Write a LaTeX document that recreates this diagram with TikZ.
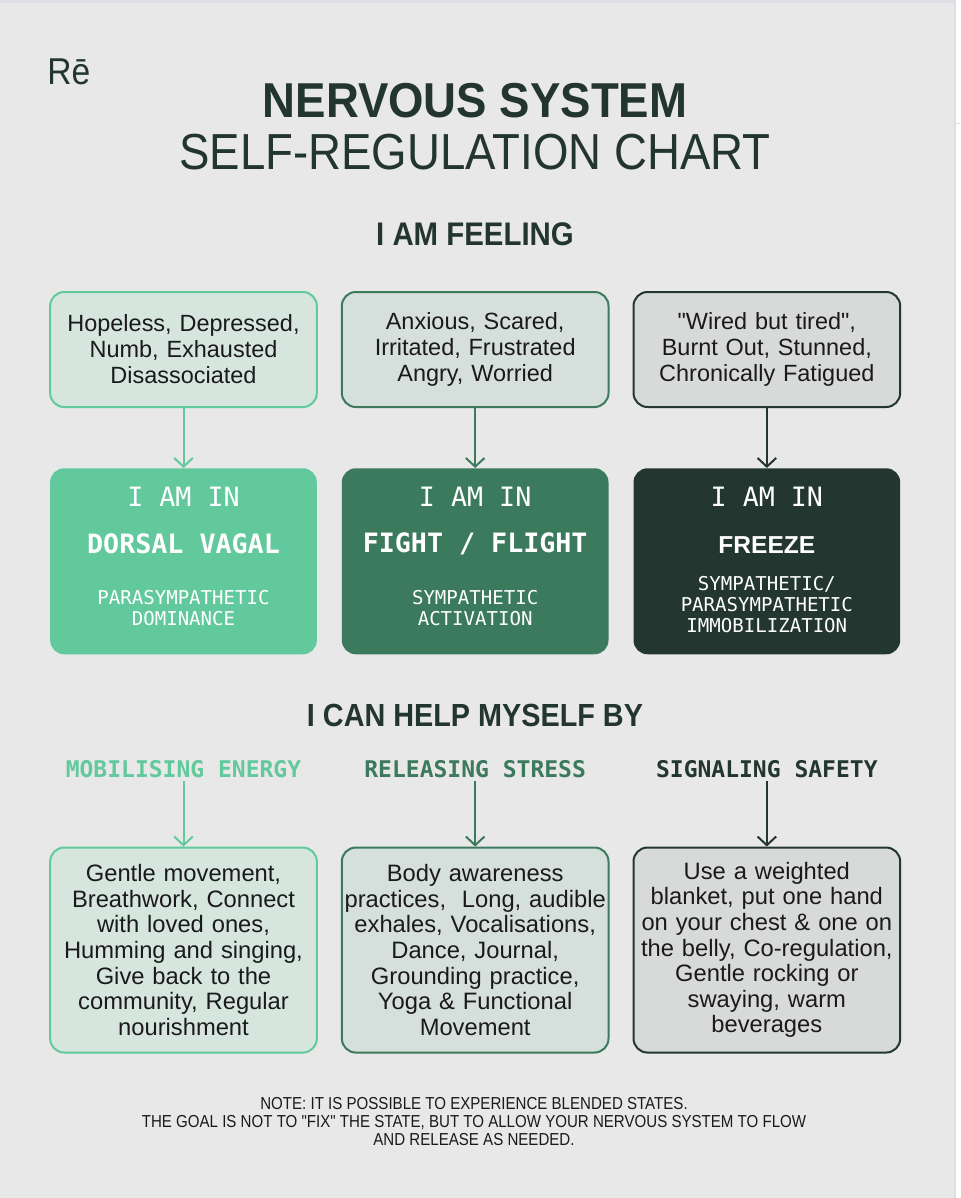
\documentclass[tikz,border=0pt]{standalone}
\usepackage{fontspec}
\setmainfont{Liberation Sans}[Ligatures=TeXOff]
\newfontfamily\headfont[FakeStretch=0.9]{Liberation Sans}
\newfontfamily\titlefont[FakeStretch=0.93]{Liberation Sans}
\newfontfamily\notefont[FakeStretch=0.87,Ligatures=TeXOff]{Liberation Sans}
\newfontfamily\codefont{DejaVu Sans Mono}
\usepackage{tikz}
\usetikzlibrary{calc}
\usetikzlibrary{arrows.meta}
\usetikzlibrary{positioning}

\definecolor{panel}{HTML}{E8E8E8}
\definecolor{rim}{HTML}{DCE0E5}
\definecolor{ink}{HTML}{1A1A1A}
\definecolor{head}{HTML}{22352E}
\definecolor{mint}{HTML}{62C99C}
\definecolor{moss}{HTML}{3B7A5D}
\definecolor{pine}{HTML}{233630}
\definecolor{mintpale}{HTML}{D6E6DF}
\definecolor{mosspale}{HTML}{D5DFDB}
\definecolor{pinepale}{HTML}{D8D9D9}

\begin{document}
\begin{tikzpicture}[x=0.75pt,y=-0.75pt]
    \def\blockdist{17.25pt}
    \tikzstyle{feel}=[rectangle, rounded corners=10.5pt, line width=1.5pt, draw, align=center, text width=196pt, inner sep=2pt, minimum height=86.25pt, text=ink, font=\fontsize{17.6}{19.5}\selectfont]
    \tikzstyle{help}=[feel, minimum height=153.75pt, font=\fontsize{17.8}{19.2}\selectfont]
    \tikzstyle{state}=[rectangle, rounded corners=10.5pt, minimum width=200pt, minimum height=139.5pt, inner sep=0pt]
    \tikzstyle{inlabel}=[text=white, font=\codefont\fontsize{20}{24}\selectfont]
    \tikzstyle{statename}=[text=white, font=\codefont\bfseries\fontsize{20}{24}\selectfont]
    \tikzstyle{sublabel}=[text=white, align=center, font=\codefont\fontsize{14.3}{15.9}\selectfont]
    \tikzstyle{caption}=[inner sep=2pt, font=\codefont\bfseries\fontsize{17.25}{20}\selectfont]
    \tikzstyle{heading}=[anchor=base, inner sep=0pt, text=head, font=\headfont\bfseries\fontsize{24.5}{28}\selectfont]
    \tikzstyle{arrow}=[-{Straight Barb[length=6.5pt,width=14pt]}, line width=1.5pt]

    % page
    \useasboundingbox (0,0) rectangle (960,1198);
    \fill[white] (0,0) rectangle (960,1198);
    \fill[panel] (0,3) rectangle (954,1198);
    \fill[rim] (0,0) rectangle (956,3);
    \fill[rim] (954,3) rectangle (956,1198);
    \draw[rim, line width=0.75pt] (956,124) -- (960,124);

    % headings
    \node (logo) [anchor=base west, inner sep=0pt, text=head, font=\headfont\fontsize{28}{30}\selectfont] at (47,85) {Rē};
    \node (title) [heading, font=\titlefont\bfseries\fontsize{36.75}{40}\selectfont] at (475,118) {NERVOUS SYSTEM};
    \node (subtitle) [heading, font=\headfont\fontsize{38}{42}\selectfont] at (475,170) {SELF-REGULATION CHART};
    \node (feeling) [heading] at (475,246) {I AM FEELING};

    % nodes
    \node (f1) [feel, draw=mint, fill=mintpale] at (183.5,349.5) {Hopeless, Depressed,\\Numb, Exhausted\\Disassociated};
    \path (f1.east)+(\blockdist,0) node (f2) [feel, anchor=west, draw=moss, fill=mosspale] {Anxious, Scared,\\Irritated, Frustrated\\Angry, Worried};
    \path (f2.east)+(\blockdist,0) node (f3) [feel, anchor=west, draw=pine, fill=pinepale] {"Wired but tired",\\Burnt Out, Stunned,\\Chronically Fatigued};

    \path (f1.south)+(0,60) node (s1) [state, anchor=north, fill=mint] {};
    \path (f2.south)+(0,60) node (s2) [state, anchor=north, fill=moss] {};
    \path (f3.south)+(0,60) node (s3) [state, anchor=north, fill=pine] {};

    \path (s1.north)+(0,29) node (in1) [inlabel] {I AM IN};
    \path (s2.north)+(0,29) node (in2) [inlabel] {I AM IN};
    \path (s3.north)+(0,29) node (in3) [inlabel] {I AM IN};
    \path (s1.north)+(0,76) node (n1) [statename] {DORSAL VAGAL};
    \path (s2.north)+(0,76) node (n2) [statename] {FIGHT / FLIGHT};
    \path (s3.north)+(0,77) node (n3) [text=white, font=\bfseries\fontsize{18.4}{22}\selectfont] {FREEZE};
    \path (s1.north)+(0,140) node (p1) [sublabel] {PARASYMPATHETIC\\DOMINANCE};
    \path (s2.north)+(0,140) node (p2) [sublabel] {SYMPATHETIC\\ACTIVATION};
    \path (s3.north)+(0,136.5) node (p3) [sublabel] {SYMPATHETIC/\\PARASYMPATHETIC\\IMMOBILIZATION};

    \node (helpme) [heading, font=\headfont\bfseries\fontsize{24}{28}\selectfont] at (475,726) {I CAN HELP MYSELF BY};

    % captions
    \path (s1.south)+(0,115) node (c1) [caption, text=mint] {MOBILISING ENERGY};
    \path (s2.south)+(0,115) node (c2) [caption, text=moss] {RELEASING STRESS};
    \path (s3.south)+(0,115) node (c3) [caption, text=pine] {SIGNALING SAFETY};

    \path (s1.south)+(0,192) node (h1) [help, anchor=north, draw=mint, fill=mintpale] {Gentle movement,\\Breathwork, Connect\\with loved ones,\\Humming and singing,\\Give back to the\\community, Regular\\nourishment};
    \path (s2.south)+(0,192) node (h2) [help, anchor=north, draw=moss, fill=mosspale] {Body awareness\\practices,~ Long, audible\\exhales, Vocalisations,\\Dance, Journal,\\Grounding practice,\\Yoga \& Functional\\Movement};
    \path (s3.south)+(0,192) node (h3) [help, anchor=north, draw=pine, fill=pinepale] {Use a weighted\\blanket, put one hand\\on your chest \& one on\\the belly, Co-regulation,\\Gentle rocking or\\swaying, warm\\beverages};

    % arrows
    \path[arrow, draw=mint] (f1) edge (s1);
    \path[arrow, draw=moss] (f2) edge (s2);
    \path[arrow, draw=pine] (f3) edge (s3);
    \path[arrow, draw=mint] (c1) edge (h1);
    \path[arrow, draw=moss] (c2) edge (h2);
    \path[arrow, draw=pine] (c3) edge (h3);

    % note
    \node (note) [align=center, text=ink, font=\notefont\fontsize{13}{13.5}\selectfont] at (474,1121.5) {NOTE: IT IS POSSIBLE TO EXPERIENCE BLENDED STATES.\\THE GOAL IS NOT TO "FIX" THE STATE, BUT TO ALLOW YOUR NERVOUS SYSTEM TO FLOW\\AND RELEASE AS NEEDED.};
\end{tikzpicture}
\end{document}
